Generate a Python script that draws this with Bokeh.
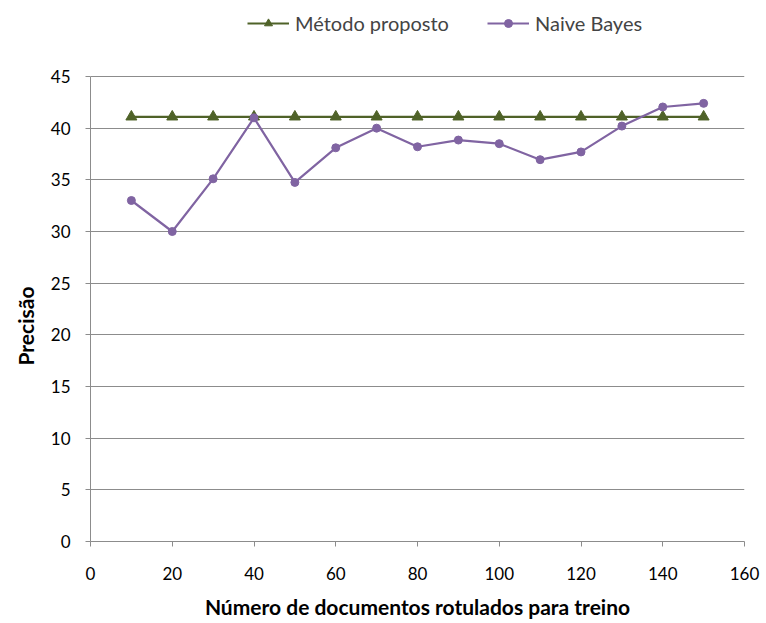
from bokeh.plotting import figure
from bokeh.embed import file_html
from bokeh.resources import INLINE
from bokeh.models import Legend, LegendItem, Range1d, FixedTicker, Title

x_docs = [10, 20, 30, 40, 50, 60, 70, 80, 90, 100, 110, 120, 130, 140, 150]
metodo_proposto = [41.1] * 15
naive_bayes = [33.0, 30.0, 35.1, 41.0, 34.75, 38.1, 40.0, 38.2, 38.85, 38.5, 36.95, 37.7, 40.2, 42.05, 42.4]
x_ticks = [0, 20, 40, 60, 80, 100, 120, 140, 160]
y_ticks = [0, 5, 10, 15, 20, 25, 30, 35, 40, 45]

FONT = "Lato"

# frame extends above the 45 line to leave room for the legend inside the frame
# (45 sits at 76 px from the top; frame top at 4 px; 465 px per 45 units)
Y_TOP = 45 + (76 - 4) * 45 / 465.0

p = figure(width=766, height=623, output_backend="svg", toolbar_location=None,
           x_range=Range1d(0, 160), y_range=Range1d(0, Y_TOP),
           min_border_left=89, min_border_right=22, min_border_top=4, min_border_bottom=82)
p.outline_line_color = None
p.background_fill_color = "white"
p.border_fill_color = "white"

green = "#4F6228"
purple = "#8064A2"

r1 = p.line(x_docs, metodo_proposto, line_color=green, line_width=2.2)
r1m = p.scatter(x_docs, metodo_proposto, marker="triangle", size=11, fill_color=green, line_color=green)
r2 = p.line(x_docs, naive_bayes, line_color=purple, line_width=2.2)
r2m = p.scatter(x_docs, naive_bayes, marker="circle", size=8, fill_color=purple, line_color=purple)

p.xaxis.ticker = FixedTicker(ticks=x_ticks)
p.yaxis.ticker = FixedTicker(ticks=y_ticks)
p.yaxis.bounds = (0, 45)
p.xgrid.grid_line_color = None
p.ygrid.grid_line_color = "#8c8c8c"
p.ygrid.grid_line_width = 1

for ax in (p.xaxis, p.yaxis):
    ax.axis_line_color = "#8c8c8c"
    ax.major_tick_line_color = "#8c8c8c"
    ax.minor_tick_line_color = None
    ax.major_tick_in = 0
    ax.major_tick_out = 5
    ax.major_label_text_font = FONT
    ax.major_label_text_font_size = "17px"
    ax.major_label_text_color = "#000000"
    ax.axis_label_text_font = FONT
    ax.axis_label_text_font_size = "21px"
    ax.axis_label_text_font_style = "bold"
    ax.axis_label_text_color = "#000000"

p.xaxis.axis_label = "Número de documentos rotulados para treino"
p.xaxis.major_label_standoff = 20
p.xaxis.axis_label_standoff = 11
p.yaxis.major_label_standoff = 15

# y-axis title centred on the 0-45 span (not on the extended frame)
ytitle = Title(text="Precisão", align="left", offset=176, standoff=20,
               text_font=FONT, text_font_size="21px", text_font_style="bold",
               text_color="#000000")
p.add_layout(ytitle, "left")

legend = Legend(items=[
    LegendItem(label="Método proposto", renderers=[r1, r1m]),
    LegendItem(label="Naive Bayes", renderers=[r2, r2m]),
], orientation="horizontal", location=(157, 506))
legend.label_text_font = FONT
legend.label_text_font_size = "20px"
legend.border_line_color = None
legend.background_fill_alpha = 0
legend.glyph_width = 42
legend.label_standoff = 6
legend.spacing = 38
legend.padding = 4
legend.margin = 0
p.add_layout(legend, "center")

open("out.html", "w").write(file_html(p, INLINE))
